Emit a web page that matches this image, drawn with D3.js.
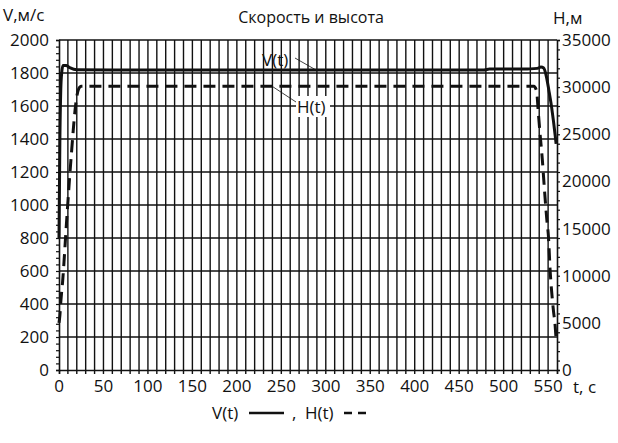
<!DOCTYPE html>
<html>
<head>
<meta charset="utf-8">
<script src="https://cdn.jsdelivr.net/npm/d3@7"></script>
<style>
  body { margin: 0; background: #fff; }
  svg { display: block; font-family: "Open Sans", "DejaVu Sans", sans-serif; }
</style>
</head>
<body>
<svg id="chart" width="618" height="443"></svg>
<script>
// speed V(t), m/s
const tV = [0, 0.5, 1, 2, 3, 4.5, 8, 12, 20, 60, 200, 400, 478, 484, 530, 538, 542, 545, 548, 551, 554, 556, 558, 559];
const vV = [800, 1100, 1400, 1700, 1800, 1845, 1845, 1833, 1820, 1818, 1818, 1818, 1818, 1824, 1825, 1828, 1836, 1830, 1780, 1690, 1590, 1510, 1420, 1370];

// altitude H(t), m
const tH = [0, 1, 2, 3, 4, 6, 8, 10, 12, 14, 16, 18, 20, 22, 25, 100, 300, 534, 537, 539, 541, 543.5, 546, 548.5, 550.5, 552.3, 554, 556, 558, 559];
const hH = [5000, 5800, 7200, 8300, 9300, 12000, 15000, 17800, 20500, 23000, 25400, 27500, 29000, 29800, 30100, 30100, 30100, 30100, 29600, 27300, 25000, 22300, 19000, 16000, 14000, 10500, 8300, 6300, 4600, 3200];

const xTicks = [0, 50, 100, 150, 200, 250, 300, 350, 400, 450, 500, 550];
const vTicks = [0, 200, 400, 600, 800, 1000, 1200, 1400, 1600, 1800, 2000];
const hTicks = [0, 5000, 10000, 15000, 20000, 25000, 30000, 35000];

const svg = d3.select('#chart');
const mLeft = 59, mRight = 557, mTop = 40, mBottom = 370;

const x = d3.scaleLinear().domain([0, 560]).range([mLeft, mRight]);
const yV = d3.scaleLinear().domain([0, 2000]).range([mBottom, mTop]);
const yH = d3.scaleLinear().domain([0, 35000]).range([mBottom, mTop]);

const ink = '#111';

// vertical grid every 10 s, poking below the x axis as ticks
const grid = svg.append('g').attr('stroke', ink).attr('stroke-width', 1.4);
grid.selectAll('line.vx')
  .data(d3.range(10, 560, 10))
  .enter().append('line')
  .attr('x1', d => x(d)).attr('x2', d => x(d))
  .attr('y1', mTop).attr('y2', mBottom + 4);

// horizontal grid on V majors
grid.selectAll('line.hy')
  .data(vTicks.slice(1))
  .enter().append('line')
  .attr('x1', mLeft).attr('x2', mRight)
  .attr('y1', d => yV(d)).attr('y2', d => yV(d));

// axes
const axisLeft = d3.axisLeft(yV).tickValues(d3.range(0, 2001, 40)).tickSize(3).tickFormat('');
const axisRight = d3.axisRight(yH).tickValues(d3.range(0, 35001, 1000)).tickSize(3).tickFormat('');
const axisBottom = d3.axisBottom(x).tickValues([0, 560]).tickSize(4).tickFormat('');

[svg.append('g').attr('transform', `translate(${mLeft},0)`).call(axisLeft),
 svg.append('g').attr('transform', `translate(${mRight},0)`).call(axisRight),
 svg.append('g').attr('transform', `translate(0,${mBottom})`).call(axisBottom)]
  .forEach(g => {
    g.select('.domain').attr('stroke', ink).attr('stroke-width', 1.6);
    g.selectAll('.tick line').attr('stroke', ink).attr('stroke-width', 1.2);
  });

// tick labels
const fs = 17;
svg.append('g').selectAll('text')
  .data(vTicks).enter().append('text')
  .attr('x', mLeft - 10).attr('y', d => yV(d))
  .attr('dy', '0.35em').attr('text-anchor', 'end')
  .style('font-size', fs + 'px').attr('fill', ink)
  .text(d => d);

svg.append('g').selectAll('text')
  .data(hTicks).enter().append('text')
  .attr('x', mRight + 5).attr('y', d => yH(d))
  .attr('dy', '0.35em').attr('text-anchor', 'start')
  .style('font-size', fs + 'px').attr('fill', ink)
  .text(d => d);

svg.append('g').selectAll('text')
  .data(xTicks).enter().append('text')
  .attr('x', d => x(d)).attr('y', mBottom + 22)
  .attr('text-anchor', 'middle')
  .style('font-size', fs + 'px').attr('fill', ink)
  .text(d => d);

// axis titles and chart title
svg.append('text').attr('x', 3).attr('y', 21).style('font-size', fs + 'px').attr('fill', ink).text('V,м/с');
svg.append('text').attr('x', 553).attr('y', 24).style('font-size', fs + 'px').attr('fill', ink).text('H,м');
svg.append('text').attr('x', 573).attr('y', mBottom + 23).style('font-size', fs + 'px').attr('fill', ink).text('t, с');
svg.append('text').attr('x', 311).attr('y', 23).attr('text-anchor', 'middle')
  .style('font-size', '16px').attr('fill', ink).text('Скорость и высота');

// curves
const lineV = d3.line().x(d => x(d[0])).y(d => yV(d[1])).curve(d3.curveMonotoneX);
const lineH = d3.line().x(d => x(d[0])).y(d => yH(d[1])).curve(d3.curveMonotoneX);

svg.append('path')
  .datum(d3.zip(tH, hH))
  .attr('d', lineH)
  .attr('fill', 'none').attr('stroke', ink).attr('stroke-width', 3)
  .attr('stroke-dasharray', '12,7');

svg.append('path')
  .datum(d3.zip(tV, vV))
  .attr('d', lineV)
  .attr('fill', 'none').attr('stroke', ink).attr('stroke-width', 3);

// in-plot labels with leader lines
svg.append('line').attr('x1', 295).attr('y1', 58).attr('x2', 316).attr('y2', yV(1818))
  .attr('stroke', ink).attr('stroke-width', 0.8);
svg.append('text').attr('x', 262).attr('y', 66).style('font-size', fs + 'px').attr('fill', ink).text('V(t)');

svg.append('line').attr('x1', 272).attr('y1', yH(30100)).attr('x2', 296).attr('y2', 102)
  .attr('stroke', ink).attr('stroke-width', 0.8);
svg.append('rect').attr('x', 296).attr('y', 96).attr('width', 34).attr('height', 21).attr('fill', '#fff');
svg.append('text').attr('x', 297).attr('y', 113).style('font-size', fs + 'px').attr('fill', ink).text('H(t)');

// legend
const lg = svg.append('g').attr('transform', 'translate(0,419)');
lg.append('text').attr('x', 212).attr('y', 0).style('font-size', fs + 'px').attr('fill', ink).text('V(t)');
lg.append('line').attr('x1', 249).attr('x2', 284).attr('y1', -6).attr('y2', -6)
  .attr('stroke', ink).attr('stroke-width', 2.5);
lg.append('text').attr('x', 292).attr('y', 0).style('font-size', fs + 'px').attr('fill', ink).text(',');
lg.append('text').attr('x', 305).attr('y', 0).style('font-size', fs + 'px').attr('fill', ink).text('H(t)');
lg.append('line').attr('x1', 344).attr('x2', 370).attr('y1', -6).attr('y2', -6)
  .attr('stroke', ink).attr('stroke-width', 2.5).attr('stroke-dasharray', '8,6');
</script>
</body>
</html>
